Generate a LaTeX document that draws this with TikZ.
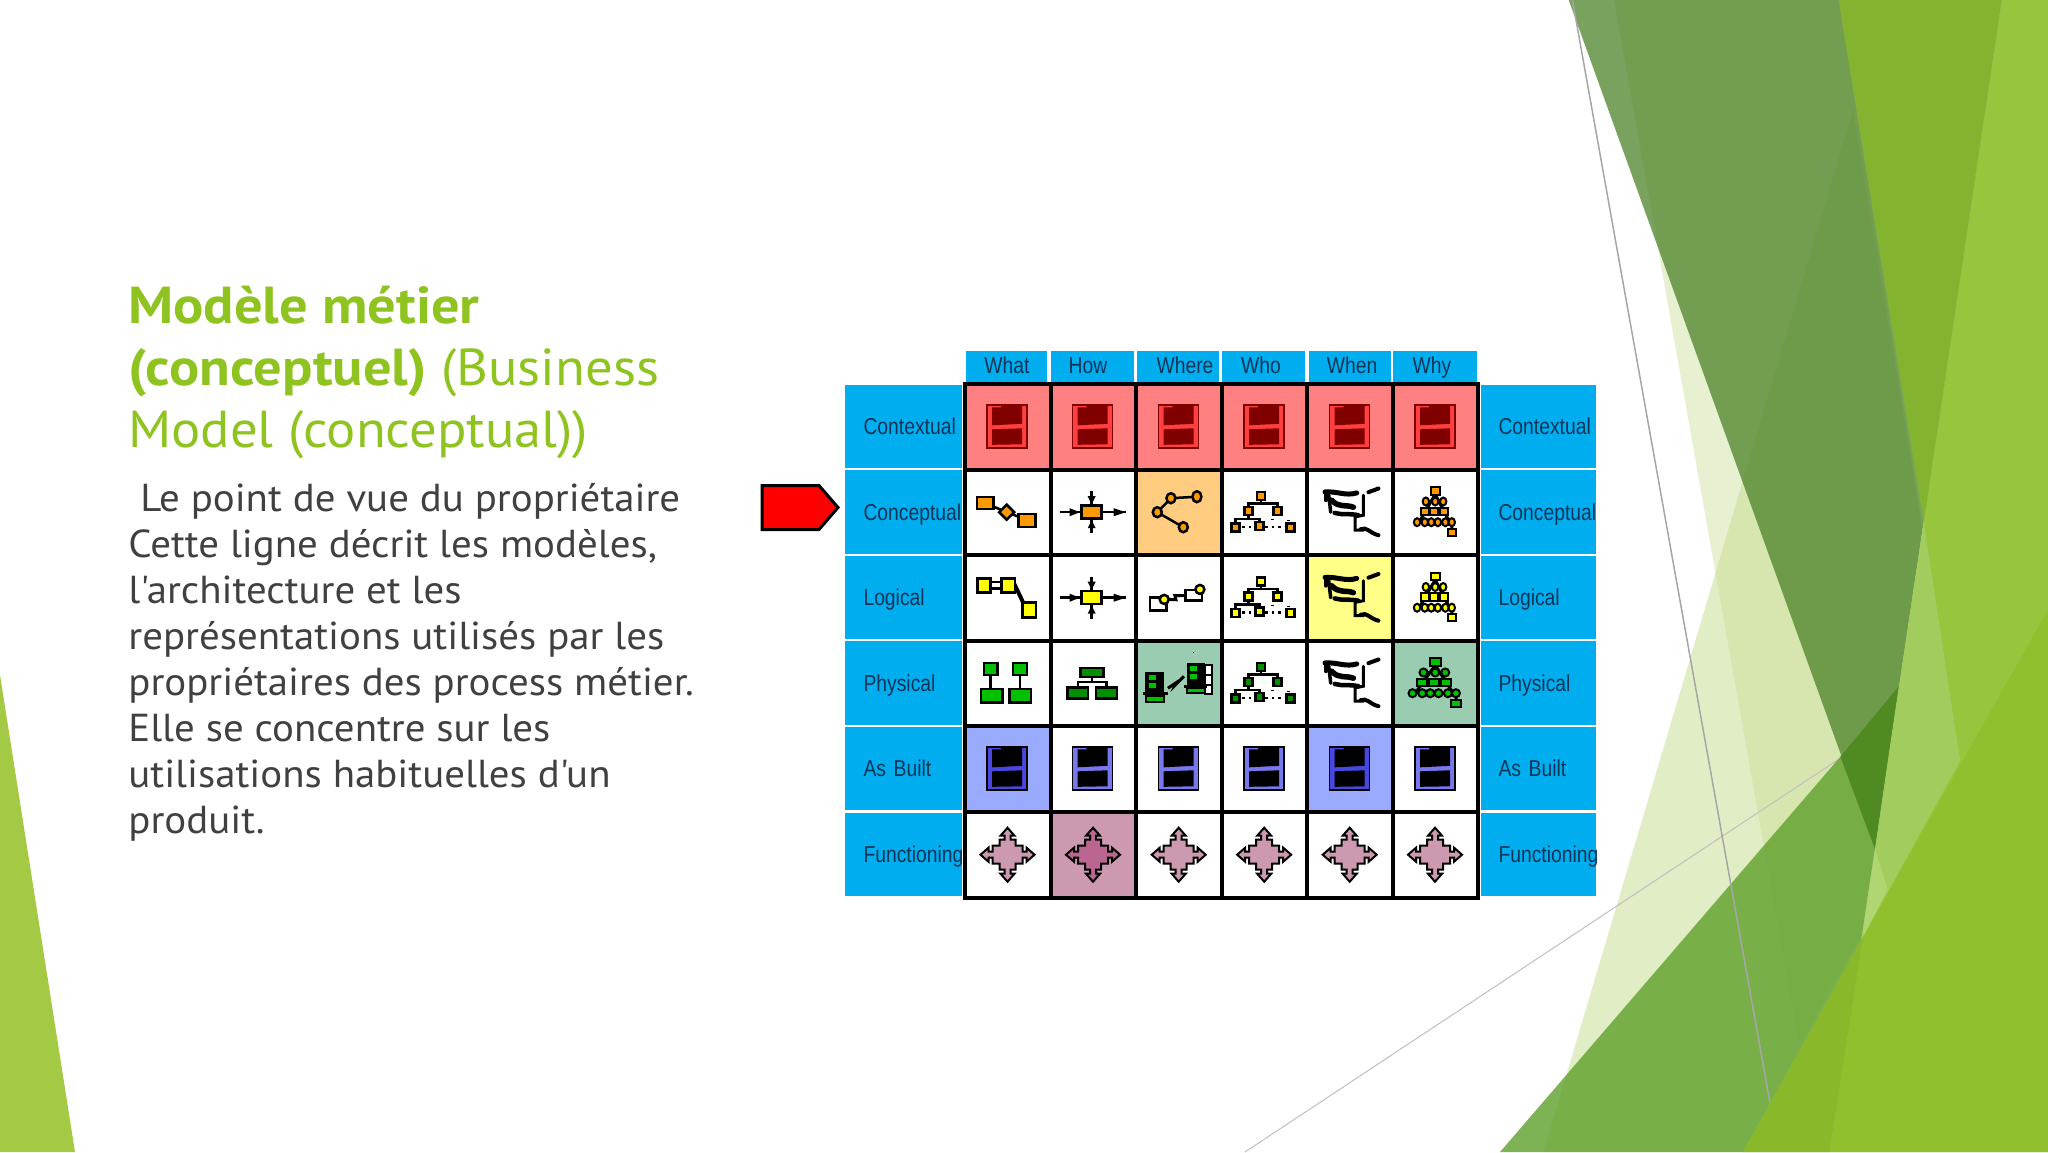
\documentclass[tikz,border=0pt]{standalone}
\usepackage{fontspec}
\setmainfont{PT Sans}
\newfontfamily\titlefont[FakeStretch=1.05,BoldFeatures={FakeStretch=1.085}]{PT Sans}
\newfontfamily\bodyfont[FakeStretch=1.048]{PT Sans}
\newfontfamily\tablefont[FakeStretch=0.84]{Liberation Sans}
\newlength{\du}
\setlength{\du}{0.5pt}
\definecolor{titlegreen}{HTML}{8FC320}
\definecolor{bodygrey}{HTML}{404040}
\definecolor{tableblue}{HTML}{00AEEF}
\definecolor{labelink}{HTML}{0B3558}
\definecolor{redcell}{HTML}{FF8080}
\definecolor{orangecell}{HTML}{FFCC80}
\definecolor{yellowcell}{HTML}{FFFF88}
\definecolor{greencell}{HTML}{99CCB0}
\definecolor{bluecell}{HTML}{99AAFF}
\definecolor{pinkcell}{HTML}{CC99B0}
\definecolor{pinkdeep}{HTML}{BB6690}
\definecolor{iconred}{HTML}{FF4040}
\definecolor{iconmaroon}{HTML}{800000}
\definecolor{iconblue}{HTML}{7777EE}
\definecolor{icondkblue}{HTML}{4848E0}
\definecolor{iconorange}{HTML}{FF9900}
\definecolor{iconyellow}{HTML}{FFFF00}
\definecolor{icongreen}{HTML}{00C000}
\definecolor{icondkgreen}{HTML}{009000}
\definecolor{facetleft}{RGB}{163,201,69}
\definecolor{facetlime}{RGB}{151,197,61}
\definecolor{facetpale}{RGB}{196,220,140}
\definecolor{facetdark}{RGB}{76,131,40}
\definecolor{facetbright}{RGB}{132,180,47}
\definecolor{facetband}{RGB}{94,160,43}
\definecolor{facetdeep}{RGB}{80,138,34}
\definecolor{facetfoot}{RGB}{137,184,43}
\definecolor{facetcorner}{RGB}{144,192,46}
\definecolor{facetshade}{RGB}{163,204,94}
\definecolor{facetglint}{RGB}{176,214,114}
\tikzset{
  rowleft/.style={fill=tableblue,text=labelink,font=\tablefont\fontsize{11.5}{13}\selectfont,minimum height=83.5\du,
    inner xsep=18.5\du,inner ysep=0pt,text width=80\du,text height=10pt,text depth=2pt,align=left,anchor=center},
  rowright/.style={rowleft,inner xsep=18\du,text width=79\du},
  colhead/.style={fill=tableblue,minimum height=31\du,anchor=north,inner sep=0pt},
  headtext/.style={text=labelink,font=\tablefont\fontsize{11.5}{13}\selectfont,inner sep=0pt,text height=10pt,text depth=2pt},
  gridline/.style={line width=4\du,black},
  ink/.style={draw=black,line width=2.5\du,line join=miter},
  facet/.style={fill=#1,draw=none},
}
% stacked frame, contextual and as built rows
\newcommand{\frameicon}[4]{
\begin{scope}[shift={(#1,#2)}]
\draw[draw=#4,fill=#3,line width=1.5\du] (-20,-21.5) rectangle (20,21.5);
\fill[#4] (-15,-19) -- (-6,-19) -- (-6,-21) -- (15,-21) -- (15,-2.5) -- (-15,-1) -- cycle;
\fill[#4] (-15,3) -- (15,2) -- (15,18) -- (-15,18.5) -- cycle;
\end{scope}}
% stepped cross, functioning row
\newcommand{\crossicon}[3]{
\begin{scope}[shift={(#1,#2)}]
\draw[ink,fill=#3,line width=2\du] (0,-27)--(-7,-19)--(-3,-19)--(-3,-15)--(-8,-15)--(-8,-9)--(-15,-9)--(-15,-3)--(-19,-3)--(-19,-7)--(-27,0)--(-19,7)--(-19,3)--(-15,3)--(-15,9)--(-8,9)--(-8,15)--(-3,15)--(-3,19)--(-7,19)--(0,27)--(7,19)--(3,19)--(3,15)--(8,15)--(8,9)--(15,9)--(15,3)--(19,3)--(19,7)--(27,0)--(19,-7)--(19,-3)--(15,-3)--(15,-9)--(8,-9)--(8,-15)--(3,-15)--(3,-19)--(7,-19)--cycle;
\end{scope}}
% four way process
\newcommand{\processicon}[3]{
\begin{scope}[shift={(#1,#2)}]
\draw[ink] (-33,0) -- (33,0);
\draw[ink] (-1,-21) -- (-1,21);
\fill (-13,0) -- (-23,-4) -- (-23,4) -- cycle;
\fill (33,0) -- (21,-4) -- (21,4) -- cycle;
\fill (-1,-8) -- (-5,-16) -- (3,-16) -- cycle;
\fill (-1,8) -- (-5,16) -- (3,16) -- cycle;
\draw[ink,fill=#3] (-11,-6.5) rectangle (9,6.5);
\end{scope}}
% org tree
\newcommand{\treeicon}[3]{
\begin{scope}[shift={(#1,#2)}]
\draw[ink] (-3.3,-16) -- (-3.3,-8.5) (-16,-1) -- (-16,-8.5) -- (13,-8.5) -- (13,-1);
\draw[ink] (-16,-1) -- (-16,7) (-29,15.7) -- (-29,7) -- (-5,7) -- (-5,14);
\draw[ink,dotted] (-22,15) -- (-11,15) (1,15) -- (21,15) (8,7) -- (8,8) (24,8) -- (24,9);
\draw[ink,fill=#3] (-7.5,-20) rectangle (.9,-12);
\draw[ink,fill=#3] (-20,-5) rectangle (-12,3);
\draw[ink,fill=#3] (9,-5) rectangle (17,3);
\draw[ink,fill=#3] (-33,11.5) rectangle (-25,19.5);
\draw[ink,fill=#3] (-9,10) rectangle (-1,18);
\draw[ink,fill=#3] (22,11.5) rectangle (30,19.5);
\end{scope}}
% schedule strokes
\newcommand{\whenicon}[2]{
\begin{scope}[shift={(#1,#2)},line cap=round]
\draw[line width=5\du] (-24.7,-20.3) .. controls (-12,-21) and (-4,-16) .. (7,-19.3);
\draw[line width=4\du] (18.7,-20) -- (28.7,-23.7);
\draw[line width=3.5\du] (-21,-17) -- (-19,0);
\draw[line width=4\du] (-24,-18) -- (-24,-12);
\draw[line width=5.5\du] (-18,-12) .. controls (-11,-4) and (-4,-8) .. (3.7,-5);
\draw[line width=4.5\du] (-15,0.7) .. controls (-8,3) and (0,1) .. (8.7,3);
\draw[line width=3\du] (13.7,-17) -- (13.7,3) -- (5.3,4.7) -- (5.3,18) -- (14,18);
\draw[line width=4\du] (11,17) .. controls (17,14) and (20,21) .. (28.7,23);
\end{scope}}
% pyramid of causes
\newcommand{\whyicon}[4]{
\begin{scope}[shift={(#1,#2)},xscale=#4,every path/.style={ink,line width=2\du}]
\draw[line width=3\du] (0,-18) -- (-20,10) (0,-18) -- (18,10) (-13,-.7) -- (11,-.7) (-11.7,-10.7) -- (10,-10.7) (20.7,10) -- (21,20);
\draw[fill=#3] (-5,-25) rectangle (6,-17.5);
\draw[fill=#3] (-11.7,-10.7) circle (4) (0,-10.7) circle (4) (10,-10.7) circle (4);
\draw[fill=#3] (-18,-4.5) rectangle (-8,3) (-6,-4.5) rectangle (4,3) (5.7,-4.5) rectangle (15.7,3);
\draw[fill=#3] (-22.7,10) circle (4) (-13,10) circle (4) (-5,10) circle (4) (3.3,10) circle (4) (12.7,10) circle (4) (20.7,10) circle (4);
\draw[fill=#3] (16,16.5) rectangle (26,23.5);
\end{scope}}
\begin{document}
\begin{tikzpicture}[x=1\du,y=-1\du]
\useasboundingbox (0,0) rectangle (2048,1152);
% background facets
\fill[facet=facetleft] (0,675)--(75,1152)--(0,1152)--cycle;
\fill[facet=facetlime] (2001.6,0)--(2048,0)--(2048,1152)--(1829.5,1152)--(1874.8,848.6)--cycle;
\fill[facet=facetpale,opacity=.4] (1614,0)--(1838.6,0)--(1959.9,760.4)--(1798.7,1043.3)--cycle;
\fill[facet=facetpale,opacity=.5] (1853,110)--(1959.9,760.4)--(1742.6,1152)--(1543.4,1152)--cycle;
\draw[line width=1\du,black!25] (1245,1152) -- (1842,757);
\fill[facet=facetdark,opacity=.75] (1568.7,0)--(2001.6,0)--(1874.8,848.6)--cycle;
\fill[facet=facetbright] (1838.6,0)--(2001.6,0)--(1923.7,521.6)--cycle;
\fill[facet=facetshade] (1923.7,521.6)--(1959.9,760.4)--(1863.2,936.7)--(1874.8,848.6)--cycle;
\fill[facet=facetglint] (1874.8,848.6)--(1887.5,889)--(1863.2,936.7)--cycle;
\fill[facet=facetband,opacity=.8] (1500,1152)--(1840.4,756.7)--(1898.3,687)--(1874.8,848.6)--(1829.5,1152)--cycle;
\fill[facet=facetdeep] (1840.4,756.7)--(1898.3,687)--(1874.8,848.6)--cycle;
\draw[line width=1.5\du,black!35] (1572.4,0) -- (1769.8,1102);
\fill[facet=facetfoot] (1742.6,1152)--(1863.2,936.7)--(1829.5,1152)--cycle;
\fill[facet=facetcorner] (1863.2,936.7)--(2048,609.8)--(2048,1152)--(1829.5,1152)--cycle;
% title and text
\node (title) [anchor=north west,inner sep=0pt,align=left,text=titlegreen,font=\titlefont\fontsize{26}{30.85}\selectfont] at (128,286)
  {\textbf{Modèle métier}\\ \textbf{(conceptuel)} (Business\\ Model (conceptual))};
\node (body) [anchor=north west,inner sep=0pt,align=left,text=bodygrey,font=\bodyfont\fontsize{19.5}{23}\selectfont] at (128,483.5)
  {\hspace*{12\du}Le point de vue du propriétaire\\ Cette ligne décrit les modèles,\\ l'architecture et les\\ représentations utilisés par les\\ propriétaires des process métier.\\ Elle se concentre sur les\\ utilisations habituelles d'un\\ produit.};
% marker
\draw[line width=3\du,fill=red,miter limit=10] (762,485.5) -- (819,485.5) -- (838,507.5) -- (819,529.5) -- (762,529.5) -- cycle;
% column heads
\node (headwhat) [colhead,minimum width=81\du] at (1006.5,351) {};
\node (headhow) [colhead,minimum width=83\du] at (1092.5,351) {};
\node (headwhere) [colhead,minimum width=82\du] at (1178,351) {};
\node (headwho) [colhead,minimum width=83\du] at (1263.5,351) {};
\node (headwhen) [colhead,minimum width=82\du] at (1349.5,351) {};
\node (headwhy) [colhead,minimum width=84\du] at (1435,351) {};
\node (textwhat) [headtext] at (1007,365.5) {What};
\node (texthow) [headtext] at (1088,365.5) {How};
\node (textwhere) [headtext] at (1185,365.5) {Where};
\node (textwho) [headtext] at (1261,365.5) {Who};
\node (textwhen) [headtext] at (1352,365.5) {When};
\node (textwhy) [headtext] at (1432,365.5) {Why};
% row heads
\node (leftctx) [rowleft] at (903.5,426.7) {Contextual};
\node (leftcon) [rowleft] at (903.5,512.2) {Conceptual};
\node (leftlog) [rowleft] at (903.5,597.7) {Logical};
\node (leftphy) [rowleft] at (903.5,683.2) {Physical};
\node (leftbuilt) [rowleft] at (903.5,768.7) {As Built};
\node (leftfun) [rowleft] at (903.5,854.7) {Functioning};
\node (rightctx) [rowright] at (1538,426.7) {Contextual};
\node (rightcon) [rowright] at (1538,512.2) {Conceptual};
\node (rightlog) [rowright] at (1538,597.7) {Logical};
\node (rightphy) [rowright] at (1538,683.2) {Physical};
\node (rightbuilt) [rowright] at (1538,768.7) {As Built};
\node (rightfun) [rowright] at (1538,854.7) {Functioning};
% cell colours
\fill[redcell] (965,384) rectangle (1478,469.5);
\fill[orangecell] (1136,469.5) rectangle (1221.7,555);
\fill[yellowcell] (1307,555) rectangle (1392.5,640.5);
\fill[greencell] (1136,640.5) rectangle (1221.7,726);
\fill[greencell] (1392.5,640.5) rectangle (1478,726);
\fill[bluecell] (965,726) rectangle (1050.5,811.5);
\fill[bluecell] (1307,726) rectangle (1392.5,811.5);
\fill[pinkcell] (1050.5,811.5) rectangle (1136,897.5);
% grid
\foreach \gx in {965,1050.5,1136,1221.7,1307,1392.5,1478}
  \draw[gridline] (\gx,382) -- (\gx,899.5);
\foreach \gy in {384,469.5,555,640.5,726,811.5,897.5}
  \draw[gridline] (963,\gy) -- (1480,\gy);
% contextual
\frameicon{1007}{426.3}{iconred}{iconmaroon}
\frameicon{1092.5}{426.3}{iconred}{iconmaroon}
\frameicon{1178.5}{426.3}{iconred}{iconmaroon}
\frameicon{1264}{426.3}{iconred}{iconmaroon}
\frameicon{1349.5}{426.3}{iconred}{iconmaroon}
\frameicon{1435}{426.3}{iconred}{iconmaroon}
% conceptual
\begin{scope}[shift={(1007.7,512.2)}]
\draw[ink] (-22,-9) -- (-1,0) -- (20,8);
\draw[ink,fill=iconorange] (-30.5,-15) rectangle (-14,-3);
\draw[ink,fill=iconorange] (-1,-7.5) -- (6.5,0) -- (-1,7.5) -- (-8.5,0) -- cycle;
\draw[ink,fill=iconorange] (11,2) rectangle (28,15);
\end{scope}
\processicon{1092.7}{512.2}{iconorange}
\begin{scope}[shift={(1178.9,512.2)}]
\draw[ink] (18,-15.5) -- (-8,-14) -- (-21.6,0) -- (4.4,15);
\draw[ink,fill=iconorange] (-21.6,0) ellipse (4.5 and 5);
\draw[ink,fill=iconorange] (-8,-14) ellipse (4.5 and 5);
\draw[ink,fill=iconorange] (18,-15.5) ellipse (4.5 and 5.5);
\draw[ink,fill=iconorange] (4.4,15) ellipse (4.5 and 5);
\end{scope}
\treeicon{1264.3}{512.2}{iconorange}
\whenicon{1349.7}{512.2}
\whyicon{1435.2}{512.2}{iconorange}{.8}
% logical
\begin{scope}[shift={(1007.7,597.7)}]
\draw[ink] (-17,-15.5) -- (-6,-15.5) (-17,-9) -- (-6,-9);
\draw[line width=4\du] (6,-15) -- (17,8);
\draw[ink,fill=iconyellow] (-30.3,-19.3) rectangle (-17,-5);
\draw[ink,fill=iconyellow] (-6,-19.3) rectangle (7.3,-5);
\draw[ink,fill=iconyellow] (14.7,5) rectangle (28.3,20);
\end{scope}
\processicon{1092.7}{597.7}{iconyellow}
\begin{scope}[shift={(1178.9,597.7)}]
\draw[line width=3\du] (-10,1.7) -- (-3,2) -- (-4,-2) -- (6,-2);
\draw[ink] (-29,0) rectangle (-12.3,13);
\draw[ink] (6.7,-7.7) rectangle (23.3,3);
\draw[ink,fill=iconyellow] (-14.7,1.7) circle (4.5);
\draw[ink,fill=iconyellow] (21,-8.3) circle (4.5);
\end{scope}
\treeicon{1264.3}{597.7}{iconyellow}
\whenicon{1349.7}{597.7}
\whyicon{1435.2}{597.7}{iconyellow}{.8}
% physical
\begin{scope}[shift={(1007.7,683.2)}]
\draw[ink] (-17,-9) -- (-17,7) (12.3,-9) -- (12.3,7);
\draw[ink,fill=icongreen] (-23.8,-20.3) rectangle (-10.2,-8.3);
\draw[ink,fill=icongreen] (5.5,-20.3) rectangle (19.1,-8.3);
\draw[ink,fill=icongreen] (-26.7,6) rectangle (-5.3,19.4);
\draw[ink,fill=icongreen] (2,6) rectangle (23.4,19.4);
\end{scope}
\begin{scope}[shift={(1093.2,683.2)}]
\draw[ink] (-1,-6) -- (-1,-1) (-15.3,4) -- (-15.3,-1) -- (13.3,-1) -- (13.3,4);
\draw[ink,fill=icondkgreen] (-12.5,-15.4) rectangle (10.5,-6);
\draw[ink,fill=icondkgreen] (-25.6,4.5) rectangle (-5,15.5);
\draw[ink,fill=icondkgreen] (3,4.5) rectangle (23.6,15.5);
\end{scope}
\begin{scope}[shift={(1178.9,683.2)}]
\fill (-33.7,-11.7) rectangle (-15,11);
\fill (-36,9) rectangle (-11,12);
\draw[ink,fill=icongreen] (-33,13) rectangle (-15,19);
\fill[icongreen] (-30,-8) rectangle (-23,-3) (-30,0) rectangle (-23,5);
\draw[line width=3\du] (-11,5) -- (-2,-1) -- (-3,1) -- (5,-7);
\fill (7.7,-20.7) rectangle (26,11);
\draw[ink,fill=white] (26,-18) rectangle (33,11);
\draw[line width=1.5\du] (26,-8) -- (33,-8) (26,2) -- (33,2);
\fill (5,2) rectangle (28,4.5);
\draw[ink,fill=icongreen] (8,5) rectangle (26,10);
\fill[icongreen] (11,-17) rectangle (18,-12) (11,-9) rectangle (18,-4);
\fill (14,-31.5) rectangle (15,-30);
\end{scope}
\treeicon{1264.3}{683.2}{icondkgreen}
\whenicon{1349.7}{683.2}
\whyicon{1435.2}{683.2}{icongreen}{1}
% as built
\frameicon{1007}{768.3}{icondkblue}{black}
\frameicon{1092.5}{768.3}{iconblue}{black}
\frameicon{1178.5}{768.3}{iconblue}{black}
\frameicon{1264}{768.3}{iconblue}{black}
\frameicon{1349.5}{768.3}{icondkblue}{black}
\frameicon{1435}{768.3}{iconblue}{black}
% functioning
\crossicon{1007.5}{854.7}{pinkcell}
\crossicon{1093}{854.7}{pinkdeep}
\crossicon{1178.7}{854.7}{pinkcell}
\crossicon{1264.2}{854.7}{pinkcell}
\crossicon{1349.7}{854.7}{pinkcell}
\crossicon{1435}{854.7}{pinkcell}
\end{tikzpicture}
\end{document}
